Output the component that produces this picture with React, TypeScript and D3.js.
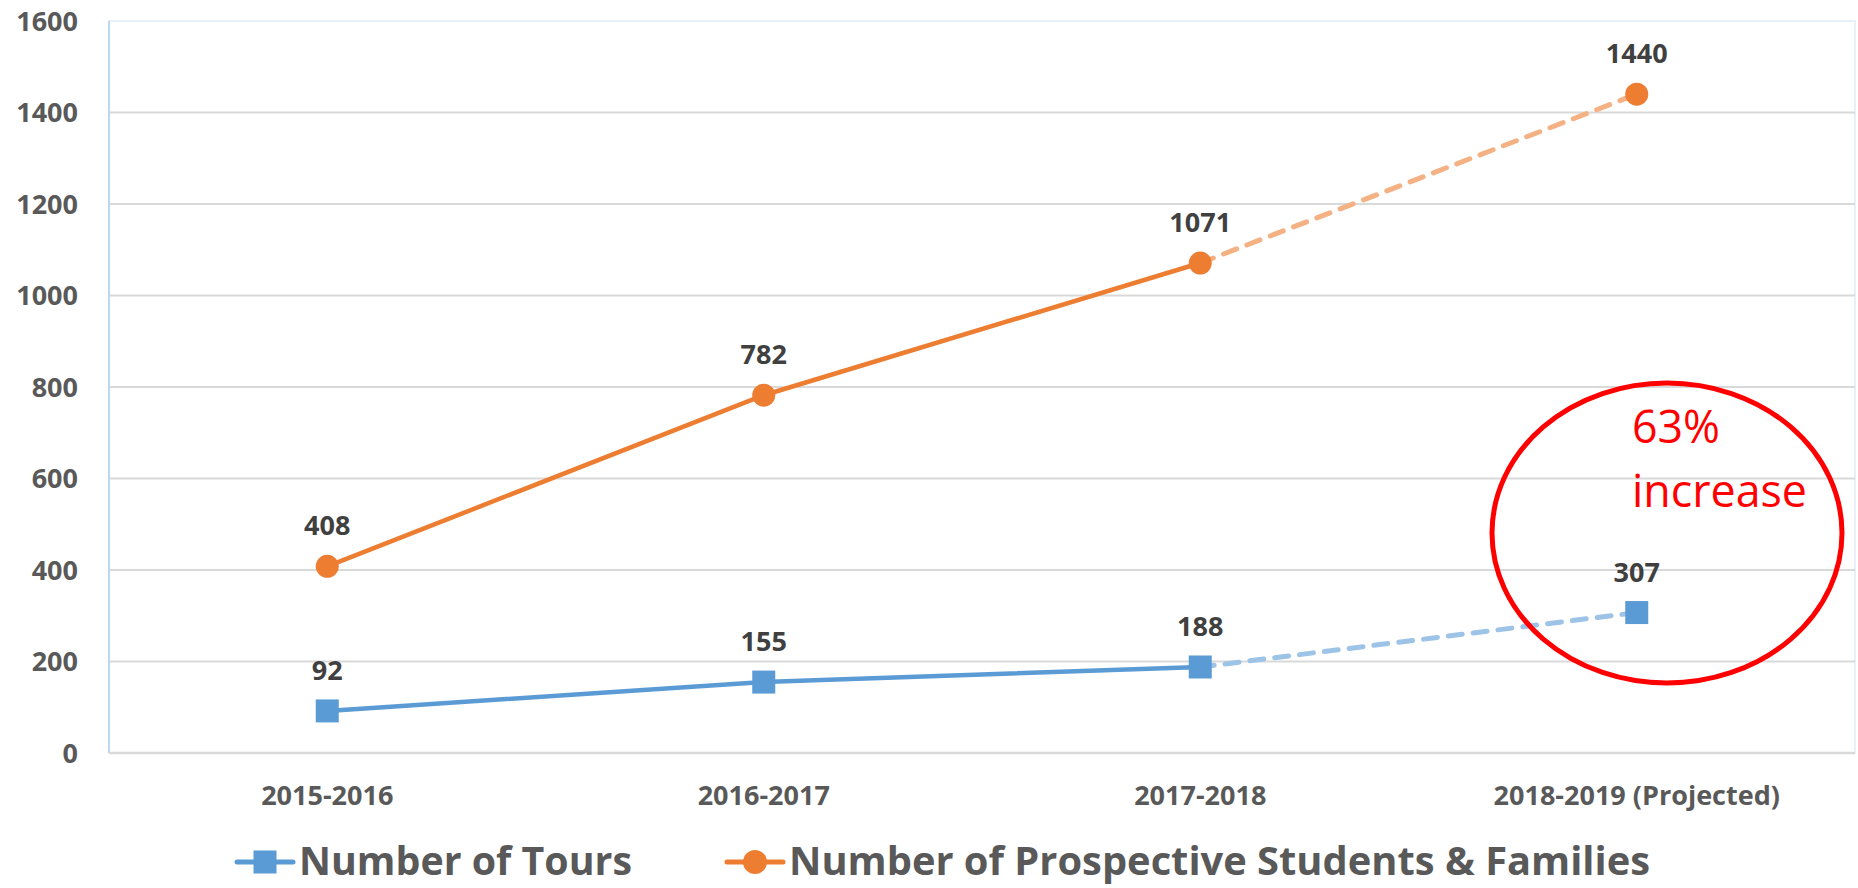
import React from "react";
import * as d3 from "d3";

const categories = ["2015-2016", "2016-2017", "2017-2018", "2018-2019 (Projected)"];
const tours = [92, 155, 188, 307];
const prospects = [408, 782, 1071, 1440];
const yTicks = [0, 200, 400, 600, 800, 1000, 1200, 1400, 1600];
const seriesNames = ["Number of Tours", "Number of Prospective Students & Families"];
const annotationLines = ["63%", "increase"];

const W = 1858;
const H = 888;
const FONT = "'Open Sans', 'Liberation Sans', sans-serif";
const BLUE = "#5B9BD5";
const BLUE_L = "#9DC3E6";
const ORANGE = "#ED7D31";
const ORANGE_L = "#F4B183";

export default function App() {
  const plot = { left: 109, right: 1855, top: 21, bottom: 753 };
  const x = d3.scalePoint<string>().domain(categories).range([plot.left, plot.right]).padding(0.5);
  const y = d3.scaleLinear().domain([0, 1600]).range([plot.bottom, plot.top]);

  const seg = (vals: number[], from: number, to: number) => {
    const pts: [number, number][] = vals.map((v, i) => [x(categories[i]) as number, y(v)]);
    return d3.line()(pts.slice(from, to + 1)) as string;
  };

  const last = categories.length - 1;
  const legY = 862;
  const legBase = 875;

  return (
    <svg width={W} height={H} style={{ position: "absolute", left: 0, top: 0, background: "#fff" }}>
      {/* plot area border */}
      <rect
        x={plot.left}
        y={plot.top}
        width={plot.right - plot.left}
        height={plot.bottom - plot.top}
        fill="none"
        stroke="#E9F0F8"
        strokeWidth={2}
      />
      {/* gridlines */}
      {yTicks.slice(1, -1).map((t) => (
        <line key={t} x1={plot.left} x2={plot.right} y1={y(t)} y2={y(t)} stroke="#D9D9D9" strokeWidth={2} />
      ))}
      <line x1={plot.left} x2={plot.left} y1={plot.top} y2={plot.bottom} stroke="#BDD7EE" strokeWidth={2} />
      <line x1={plot.left} x2={plot.right} y1={plot.bottom} y2={plot.bottom} stroke="#D9D9D9" strokeWidth={2.5} />

      {/* y tick labels */}
      {yTicks.map((t) => (
        <text
          key={t}
          x={78}
          y={y(t)}
          dy="0.36em"
          textAnchor="end"
          fontFamily={FONT}
          fontWeight={700}
          fontSize={27}
          fill="#595959"
        >
          {t}
        </text>
      ))}

      {/* x labels */}
      {categories.map((c) => (
        <text
          key={c}
          x={x(c) as number}
          y={805}
          textAnchor="middle"
          fontFamily={FONT}
          fontWeight={700}
          fontSize={27}
          fill="#595959"
        >
          {c}
        </text>
      ))}

      {/* lines */}
      <path d={seg(prospects, last - 1, last)} fill="none" stroke={ORANGE_L} strokeWidth={5} strokeDasharray="14 11" strokeLinecap="round" />
      <path d={seg(tours, last - 1, last)} fill="none" stroke={BLUE_L} strokeWidth={5} strokeDasharray="14 11" strokeLinecap="round" />
      <path d={seg(prospects, 0, last - 1)} fill="none" stroke={ORANGE} strokeWidth={4.5} strokeLinecap="round" />
      <path d={seg(tours, 0, last - 1)} fill="none" stroke={BLUE} strokeWidth={4.5} strokeLinecap="round" />

      {/* markers */}
      {prospects.map((v, i) => (
        <circle key={"p" + i} cx={x(categories[i]) as number} cy={y(v)} r={11.5} fill={ORANGE} />
      ))}
      {tours.map((v, i) => (
        <rect key={"t" + i} x={(x(categories[i]) as number) - 11.5} y={y(v) - 11.5} width={23} height={23} fill={BLUE} />
      ))}

      {/* data labels */}
      {prospects.map((v, i) => (
        <text
          key={"pl" + i}
          x={x(categories[i]) as number}
          y={y(v) - 31}
          textAnchor="middle"
          fontFamily={FONT}
          fontWeight={700}
          fontSize={27}
          fill="#404040"
        >
          {v}
        </text>
      ))}
      {tours.map((v, i) => (
        <text
          key={"tl" + i}
          x={x(categories[i]) as number}
          y={y(v) - 31}
          textAnchor="middle"
          fontFamily={FONT}
          fontWeight={700}
          fontSize={27}
          fill="#404040"
        >
          {v}
        </text>
      ))}

      {/* annotation */}
      <ellipse cx={1667} cy={533} rx={175} ry={150} fill="none" stroke="#FF0000" strokeWidth={5} />
      <text x={1632} y={443} fontFamily={FONT} fontSize={45} fill="#FF0000" textLength={88} lengthAdjust="spacingAndGlyphs">
        {annotationLines[0]}
      </text>
      <text x={1632} y={507} fontFamily={FONT} fontSize={45} fill="#FF0000" textLength={175} lengthAdjust="spacingAndGlyphs">
        {annotationLines[1]}
      </text>

      {/* legend */}
      <line x1={237} x2={293} y1={legY} y2={legY} stroke={BLUE} strokeWidth={5} strokeLinecap="round" />
      <rect x={265 - 11.5} y={legY - 11.5} width={23} height={23} fill={BLUE} />
      <text x={299} y={legBase} fontFamily={FONT} fontWeight={700} fontSize={39} fill="#595959" textLength={333} lengthAdjust="spacingAndGlyphs">
        {seriesNames[0]}
      </text>
      <line x1={727} x2={783} y1={legY} y2={legY} stroke={ORANGE} strokeWidth={5} strokeLinecap="round" />
      <circle cx={755} cy={legY} r={12} fill={ORANGE} />
      <text x={789} y={legBase} fontFamily={FONT} fontWeight={700} fontSize={39} fill="#595959" textLength={861} lengthAdjust="spacingAndGlyphs">
        {seriesNames[1]}
      </text>
    </svg>
  );
}
